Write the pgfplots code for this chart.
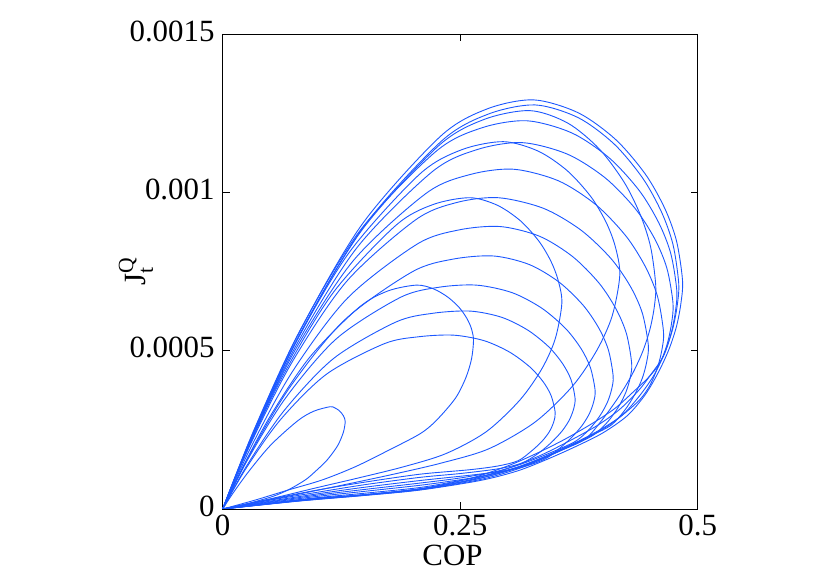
\documentclass[border=0pt]{standalone}
\usepackage{pgfplots}
\pgfplotsset{compat=1.18}
\usepackage{amsmath}
\usepackage{fontspec}
\setmainfont{Liberation Serif}
\definecolor{loopblue}{RGB}{28,88,255}
\pgfplotsset{loop/.style={color=loopblue, solid, line width=0.9bp, smooth, mark=none}}

\begin{document}
\begin{tikzpicture}[font=\fontsize{31}{37}\selectfont]
\path[use as bounding box] (0,0) rectangle (830bp,587bp);
\begin{axis}[
    at={(222.7bp,78bp)}, anchor=south west,
    width=475bp, height=475bp, scale only axis,
    xmin=0, xmax=0.5, ymin=0, ymax=0.0015,
    xtick={0,0.25,0.5}, xticklabels={0,0.25,0.5},
    ytick={0,0.0005,0.001,0.0015}, yticklabels={0,0.0005,0.001,0.0015},
    scaled x ticks=false, scaled y ticks=false,
    tick align=inside, major tick length=7bp,
    axis line style={line width=0.9bp},
    every tick/.style={black, line width=0.7bp},
    xticklabel style={inner sep=0pt, yshift=-6bp},
    yticklabel style={inner sep=0pt, xshift=-8bp, yshift=3bp},
    xlabel={COP},
    xlabel style={at={(axis description cs:0.4838,0)}, anchor=base, yshift=-56bp},
    ylabel={$\text{J}^{\text{Q}}_{\text{t}}$},
    ylabel style={at={(axis description cs:-0.1825,0.5)}, anchor=center},
]
% first family of loops
\addplot[loop] coordinates {(0,0) (0.0113,0.52e-4) (0.0283,1.22e-4) (0.0509,2.03e-4) (0.0791,2.79e-4) (0.096,3.09e-4) (0.113,3.23e-4) (0.1178,3.196e-4) (0.1218,3.125e-4) (0.125,3.033e-4) (0.1271,2.942e-4) (0.1284,2.854e-4) (0.129,2.75e-4) (0.127,2.42e-4) (0.121,2.0e-4) (0.110,1.55e-4) (0.098,1.2e-4) (0.087,0.92e-4) (0.070,0.62e-4) (0.052,0.39e-4) (0.020,0.12e-4) (0,0)};
\addplot[loop] coordinates {(0,0) (0.0204,1.28e-4) (0.051,2.98e-4) (0.0918,4.80e-4) (0.1428,6.35e-4) (0.1734,6.88e-4) (0.204,7.07e-4) (0.222,6.95e-4) (0.237,6.69e-4) (0.249,6.36e-4) (0.2568,6.03e-4) (0.2616,5.715e-4) (0.264,5.34e-4) (0.262,4.75e-4) (0.256,4.15e-4) (0.245,3.5e-4) (0.225,2.8e-4) (0.208,2.38e-4) (0.175,1.86e-4) (0.140,1.34e-4) (0.105,0.92e-4) (0.069,0.6e-4) (0.034,0.28e-4) (0,0)};
\addplot[loop] coordinates {(0,0) (0.026,1.87e-4) (0.065,4.30e-4) (0.117,6.86e-4) (0.182,8.95e-4) (0.221,9.61e-4) (0.26,9.83e-4) (0.2891,9.592e-4) (0.3134,9.101e-4) (0.3328,8.46e-4) (0.3454,7.83e-4) (0.3531,7.222e-4) (0.357,6.5e-4) (0.35,5.37e-4) (0.3358,4.42e-4) (0.3128,3.44e-4) (0.2774,2.44e-4) (0.235,1.75e-4) (0.19,1.33e-4) (0.14,0.96e-4) (0.10,0.68e-4) (0.05,0.32e-4) (0,0)};
\addplot[loop] coordinates {(0,0) (0.0295,2.20e-4) (0.0739,5.08e-4) (0.1329,8.09e-4) (0.2068,10.56e-4) (0.2511,11.34e-4) (0.2954,11.6e-4) (0.3322,11.30e-4) (0.3628,10.68e-4) (0.3874,9.868e-4) (0.4033,9.071e-4) (0.4131,8.303e-4) (0.418,7.39e-4) (0.41,6.10e-4) (0.394,5.02e-4) (0.3685,3.89e-4) (0.329,2.75e-4) (0.28,1.9e-4) (0.23,1.45e-4) (0.18,1.1e-4) (0.13,0.78e-4) (0.08,0.47e-4) (0.04,0.23e-4) (0,0)};
\addplot[loop] coordinates {(0,0) (0.0324,2.39e-4) (0.0809,5.50e-4) (0.1456,8.77e-4) (0.2265,11.45e-4) (0.275,12.30e-4) (0.3235,12.58e-4) (0.3632,12.187e-4) (0.3963,11.373e-4) (0.4227,10.313e-4) (0.4399,9.27e-4) (0.4505,8.265e-4) (0.4558,7.07e-4) (0.4542,6.36e-4) (0.4496,5.66e-4) (0.4418,4.95e-4) (0.4308,4.24e-4) (0.4168,3.54e-4) (0.3998,2.83e-4) (0.382,2.22e-4) (0.357,1.86e-4) (0.33,1.52e-4) (0.30,1.2e-4) (0.26,0.9e-4) (0.208,0.63e-4) (0.15,0.45e-4) (0.08,0.26e-4) (0,0)};
\addplot[loop] coordinates {(0,0) (0.0329,2.42e-4) (0.0822,5.58e-4) (0.148,8.90e-4) (0.230,11.61e-4) (0.2795,12.47e-4) (0.3288,12.76e-4) (0.3742,12.358e-4) (0.412,11.527e-4) (0.4422,10.444e-4) (0.4619,9.378e-4) (0.474,8.351e-4) (0.480,7.13e-4) (0.4784,6.42e-4) (0.4738,5.70e-4) (0.466,4.99e-4) (0.455,4.28e-4) (0.441,3.66e-4) (0.422,3.0e-4) (0.40,2.52e-4) (0.37,2.05e-4) (0.34,1.63e-4) (0.31,1.26e-4) (0.271,0.93e-4) (0.208,0.61e-4) (0.15,0.435e-4) (0.08,0.255e-4) (0,0)};
\addplot[loop] coordinates {(0,0) (0.0327,2.46e-4) (0.0818,5.65e-4) (0.1472,9.01e-4) (0.2289,11.76e-4) (0.278,12.63e-4) (0.327,12.92e-4) (0.3741,12.514e-4) (0.4134,11.674e-4) (0.4448,10.579e-4) (0.4652,9.502e-4) (0.4777,8.464e-4) (0.484,7.23e-4) (0.4824,6.51e-4) (0.4778,5.78e-4) (0.47,5.06e-4) (0.459,4.34e-4) (0.445,3.62e-4) (0.426,2.95e-4) (0.40,2.4e-4) (0.37,1.95e-4) (0.34,1.55e-4) (0.31,1.2e-4) (0.271,0.9e-4) (0.208,0.6e-4) (0.15,0.43e-4) (0.08,0.25e-4) (0,0)};
% second family of loops
\addplot[loop] coordinates {(0,0) (0.0243,1.27e-4) (0.0608,2.82e-4) (0.1094,4.26e-4) (0.1701,5.22e-4) (0.2066,5.44e-4) (0.243,5.49e-4) (0.2751,5.316e-4) (0.3019,4.956e-4) (0.3233,4.486e-4) (0.3372,4.024e-4) (0.3457,3.579e-4) (0.350,3.05e-4) (0.3484,2.745e-4) (0.3438,2.44e-4) (0.336,2.135e-4) (0.325,1.83e-4) (0.311,1.525e-4) (0.29,1.36e-4) (0.26,1.24e-4) (0.208,1.1e-4) (0.15,0.85e-4) (0.10,0.6e-4) (0.05,0.31e-4) (0,0)};
\addplot[loop] coordinates {(0,0) (0.026,1.40e-4) (0.065,3.12e-4) (0.117,4.76e-4) (0.182,5.90e-4) (0.221,6.18e-4) (0.2604,6.25e-4) (0.2936,6.054e-4) (0.3212,5.648e-4) (0.3433,5.119e-4) (0.3576,4.598e-4) (0.3665,4.096e-4) (0.3709,3.5e-4) (0.3693,3.15e-4) (0.3647,2.8e-4) (0.3569,2.45e-4) (0.3459,2.1e-4) (0.3319,1.75e-4) (0.3149,1.45e-4) (0.29,1.27e-4) (0.25,1.12e-4) (0.208,1.0e-4) (0.15,0.77e-4) (0.10,0.53e-4) (0.05,0.28e-4) (0,0)};
\addplot[loop] coordinates {(0,0) (0.0267,1.58e-4) (0.0668,3.53e-4) (0.1202,5.39e-4) (0.1869,6.68e-4) (0.227,7.0e-4) (0.267,7.07e-4) (0.3045,6.833e-4) (0.3358,6.343e-4) (0.3608,5.704e-4) (0.377,5.076e-4) (0.387,4.47e-4) (0.392,3.75e-4) (0.3904,3.375e-4) (0.3858,3.0e-4) (0.378,2.625e-4) (0.367,2.25e-4) (0.353,1.875e-4) (0.338,1.56e-4) (0.31,1.28e-4) (0.27,1.1e-4) (0.208,0.9e-4) (0.15,0.69e-4) (0.10,0.48e-4) (0.05,0.25e-4) (0,0)};
\addplot[loop] coordinates {(0,0) (0.0285,1.72e-4) (0.0713,3.87e-4) (0.1283,5.97e-4) (0.1995,7.49e-4) (0.2423,7.89e-4) (0.285,7.99e-4) (0.3228,7.719e-4) (0.3543,7.16e-4) (0.3795,6.431e-4) (0.3959,5.713e-4) (0.406,5.022e-4) (0.411,4.2e-4) (0.4094,3.78e-4) (0.4048,3.36e-4) (0.397,2.94e-4) (0.386,2.52e-4) (0.372,2.15e-4) (0.35,1.84e-4) (0.32,1.48e-4) (0.29,1.2e-4) (0.25,0.98e-4) (0.208,0.82e-4) (0.15,0.62e-4) (0.10,0.44e-4) (0.05,0.23e-4) (0,0)};
\addplot[loop] coordinates {(0,0) (0.0292,1.92e-4) (0.073,4.32e-4) (0.1314,6.66e-4) (0.2044,8.36e-4) (0.2482,8.81e-4) (0.292,8.92e-4) (0.3336,8.612e-4) (0.3682,7.974e-4) (0.3959,7.143e-4) (0.4139,6.325e-4) (0.425,5.537e-4) (0.4305,4.6e-4) (0.4289,4.14e-4) (0.4243,3.68e-4) (0.4165,3.22e-4) (0.4055,2.76e-4) (0.3915,2.36e-4) (0.375,2.1e-4) (0.355,1.84e-4) (0.33,1.5e-4) (0.30,1.22e-4) (0.27,1.02e-4) (0.24,0.88e-4) (0.208,0.75e-4) (0.15,0.56e-4) (0.10,0.4e-4) (0.05,0.21e-4) (0,0)};
\addplot[loop] coordinates {(0,0) (0.029,2.03e-4) (0.0725,4.61e-4) (0.1305,7.19e-4) (0.203,9.13e-4) (0.2465,9.68e-4) (0.29,9.83e-4) (0.3374,9.498e-4) (0.3769,8.812e-4) (0.4085,7.917e-4) (0.429,7.037e-4) (0.4417,6.188e-4) (0.448,5.18e-4) (0.4464,4.66e-4) (0.4418,4.14e-4) (0.434,3.63e-4) (0.423,3.11e-4) (0.409,2.65e-4) (0.39,2.35e-4) (0.365,2.0e-4) (0.34,1.66e-4) (0.31,1.32e-4) (0.28,1.08e-4) (0.25,0.9e-4) (0.208,0.68e-4) (0.15,0.5e-4) (0.10,0.36e-4) (0.05,0.19e-4) (0,0)};
\addplot[loop] coordinates {(0,0) (0.0306,2.22e-4) (0.0765,5.03e-4) (0.1377,7.85e-4) (0.2142,9.97e-4) (0.2601,10.56e-4) (0.306,10.73e-4) (0.3534,10.364e-4) (0.3929,9.607e-4) (0.4245,8.619e-4) (0.445,7.648e-4) (0.4577,6.712e-4) (0.464,5.6e-4) (0.4624,5.04e-4) (0.4578,4.48e-4) (0.45,3.92e-4) (0.439,3.45e-4) (0.42,2.95e-4) (0.40,2.55e-4) (0.375,2.15e-4) (0.35,1.8e-4) (0.32,1.42e-4) (0.29,1.12e-4) (0.26,0.9e-4) (0.208,0.64e-4) (0.15,0.46e-4) (0.10,0.34e-4) (0.05,0.18e-4) (0,0)};
\addplot[loop] coordinates {(0,0) (0.0315,2.30e-4) (0.0788,5.25e-4) (0.1418,8.27e-4) (0.2205,10.65e-4) (0.2678,11.35e-4) (0.315,11.57e-4) (0.3627,11.208e-4) (0.4025,10.46e-4) (0.4343,9.484e-4) (0.4549,8.524e-4) (0.4676,7.599e-4) (0.474,6.5e-4) (0.4724,5.85e-4) (0.4678,5.2e-4) (0.46,4.6e-4) (0.448,4.15e-4) (0.433,3.72e-4) (0.413,3.18e-4) (0.39,2.72e-4) (0.36,2.2e-4) (0.33,1.75e-4) (0.30,1.36e-4) (0.26,0.96e-4) (0.208,0.64e-4) (0.15,0.45e-4) (0.10,0.335e-4) (0.05,0.175e-4) (0,0)};
\addplot[loop] coordinates {(0,0) (0.032,2.43e-4) (0.08,5.56e-4) (0.144,8.77e-4) (0.224,11.28e-4) (0.272,12.03e-4) (0.32,12.26e-4) (0.3674,11.877e-4) (0.4069,11.086e-4) (0.4385,10.055e-4) (0.459,9.04e-4) (0.4717,8.062e-4) (0.478,6.9e-4) (0.4764,6.21e-4) (0.4718,5.52e-4) (0.464,4.83e-4) (0.452,4.3e-4) (0.438,3.75e-4) (0.418,3.15e-4) (0.395,2.65e-4) (0.365,2.15e-4) (0.335,1.7e-4) (0.30,1.28e-4) (0.26,0.92e-4) (0.208,0.62e-4) (0.15,0.445e-4) (0.10,0.33e-4) (0.05,0.17e-4) (0,0)};
\end{axis}
\end{tikzpicture}
\end{document}
